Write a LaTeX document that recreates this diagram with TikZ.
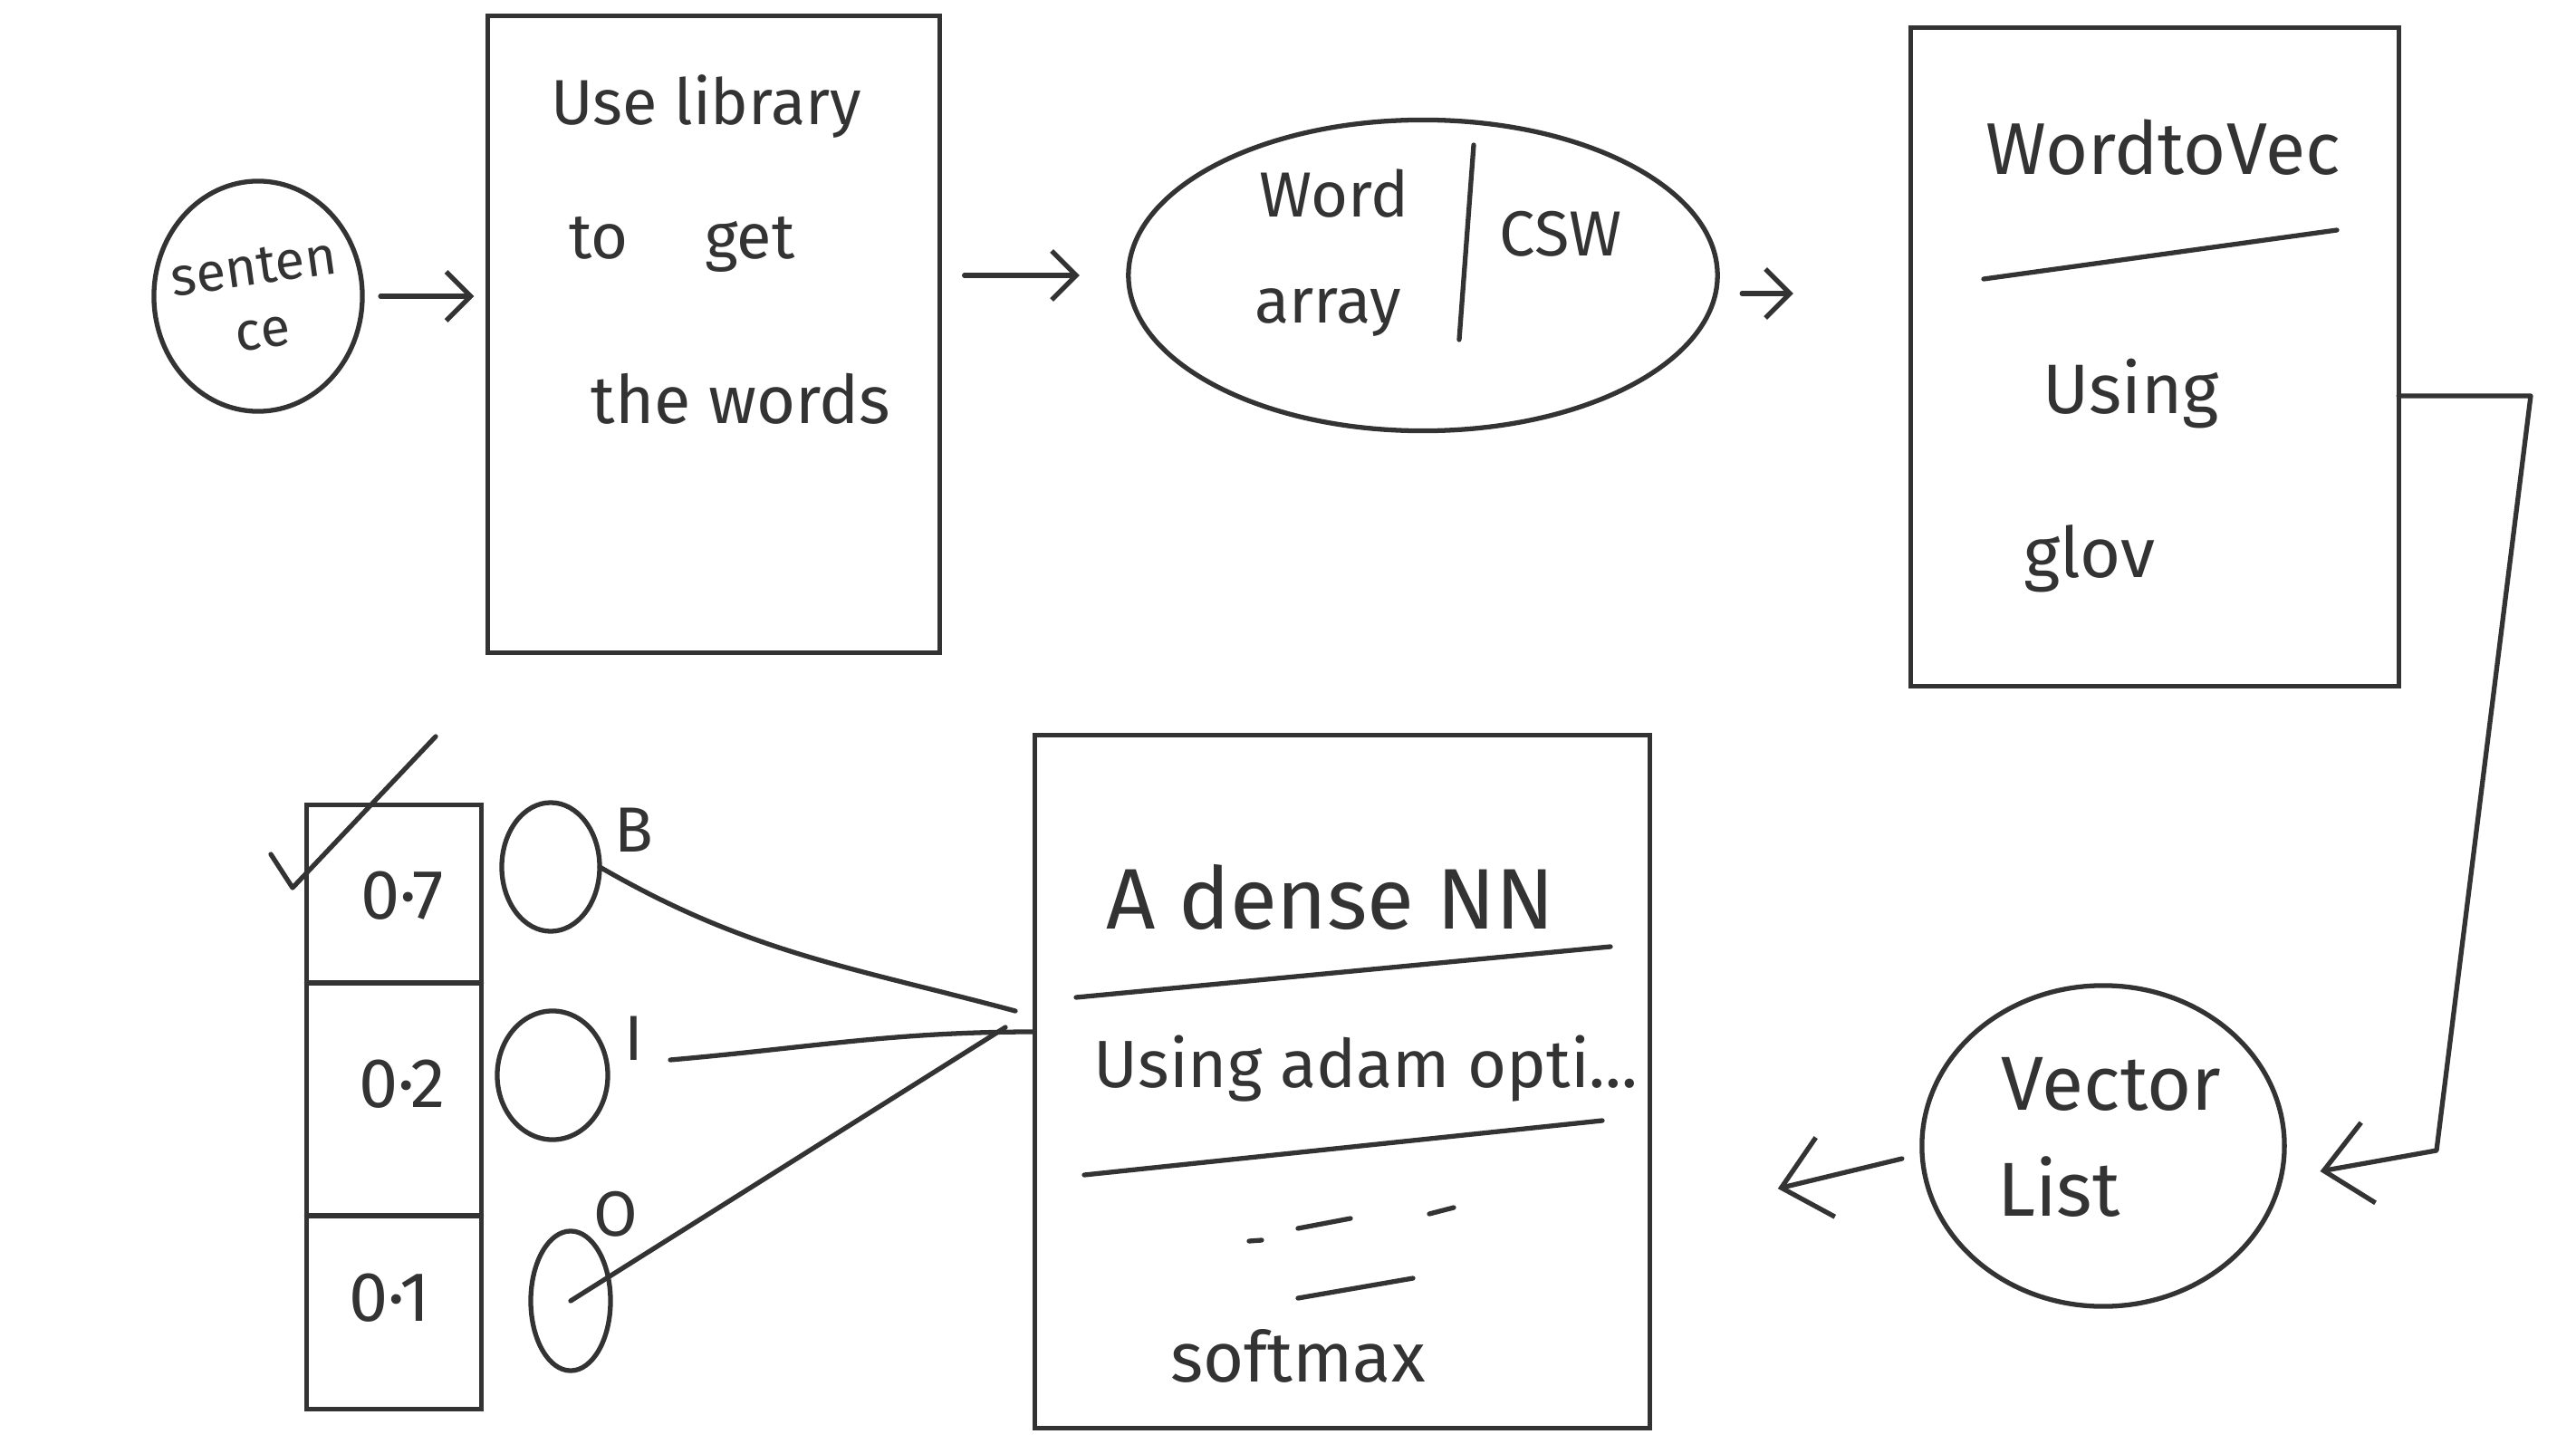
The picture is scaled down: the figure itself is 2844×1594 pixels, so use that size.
\documentclass[tikz,border=0pt]{standalone}
\usepackage{fontspec}
\setmainfont{Fira Sans}
\usetikzlibrary{arrows.meta,shapes.geometric}
\definecolor{ink}{HTML}{333333}
\begin{document}
\begin{tikzpicture}[x=0.01cm,y=-0.01cm,
  shp/.style={draw=ink,line width=1.5pt,inner sep=0pt,outer sep=0pt},
  ln/.style={draw=ink,line width=1.5pt,line cap=round},
  txt/.style={text=ink,inner sep=0pt,font=\fontsize{20}{24}\selectfont},
  arr/.style={ln,-{Straight Barb[length=0.27cm,width=0.54cm,line width=1.5pt]}},
  bigarr/.style={ln,-{Straight Barb[length=0.5cm,width=0.9cm,line width=1.5pt]}}]
\useasboundingbox (0,0) rectangle (2844,1594);
\fill[white] (0,0) rectangle (2844,1594);

% sentence
\node[shp,ellipse,minimum width=2.3cm,minimum height=2.54cm] (sent) at (285,327) {};
\node[txt,align=center,font=\fontsize{17}{20}\selectfont,rotate=8] (senttxt) at (285,330) {senten\\ce};

% box 1
\node[shp,rectangle,minimum width=4.99cm,minimum height=7.02cm] (box1) at (788,369) {};
\node[txt] (t1a) at (780,118) {Use library};
\node[txt] (t1b) at (753,270) {to\hspace{1.2em}get};
\node[txt,font=\fontsize{21}{25}\selectfont] (t1c) at (818,440) {the words};

% word array ellipse
\node[shp,ellipse,minimum width=6.5cm,minimum height=3.43cm] (wa) at (1571,304) {};
\draw[ln] (1627,160) -- (1611,375);
\node[txt] (wA) at (1473,214) {Word};
\node[txt] (wB) at (1466,345) {array};
\node[txt] (csw) at (1723,258) {CSW};

% box 3
\node[shp,rectangle,minimum width=5.38cm,minimum height=7.27cm] (box3) at (2379,394) {};
\draw[ln] (2190,308) -- (2580,254);
\node[txt,font=\fontsize{23}{27}\selectfont] (w2v) at (2388,163) {WordtoVec};
\node[txt,font=\fontsize{22}{26}\selectfont] (using) at (2353,435) {Using};
\node[txt,font=\fontsize{22}{26}\selectfont] (glov) at (2307,617) {glov};

% vector list
\node[shp,ellipse,minimum width=4.0cm,minimum height=3.54cm] (vl) at (2322,1265) {};
\node[txt,font=\fontsize{24}{28}\selectfont] (vec) at (2331,1197) {Vector};
\node[txt,font=\fontsize{24}{28}\selectfont] (lst) at (2273,1310) {List};

% dense NN box
\node[shp,rectangle,minimum width=6.79cm,minimum height=7.64cm] (dnn) at (1482,1194) {};
\node[txt,font=\fontsize{27}{31}\selectfont] (dA) at (1469,990) {A dense NN};
\draw[ln] (1188,1101) -- (1778,1045);
\node[txt,font=\fontsize{21}{25}\selectfont] (dB) at (1508,1180) {Using adam opti...};
\draw[ln] (1197,1297) -- (1769,1237);
\draw[ln] (1379,1370) -- (1393,1369);
\draw[ln] (1433,1356) -- (1491,1345);
\draw[ln] (1578,1340) -- (1605,1333);
\draw[ln] (1433,1433) -- (1560,1411);
\node[txt,font=\fontsize{22}{26}\selectfont] (soft) at (1433,1497) {softmax};

% probability column
\node[shp,rectangle,minimum width=1.93cm,minimum height=6.66cm] (col) at (435,1222) {};
\draw[ln] (col.west |- 0,1085) -- (col.east |- 0,1085);
\draw[ln] (col.west |- 0,1342) -- (col.east |- 0,1342);
\node[txt,font=\fontsize{22}{26}\selectfont] (p1) at (444,989) {0·7};
\node[txt,font=\fontsize{22}{26}\selectfont] (p2) at (444,1197) {0·2};
\node[txt,font=\fontsize{22}{26}\selectfont] (p3) at (430,1433) {0·1};
\draw[ln,line join=round] (299,943) -- (323,980) -- (481,813);

% output circles
\node[shp,ellipse,minimum width=1.08cm,minimum height=1.42cm] (oB) at (608,957) {};
\node[shp,ellipse,minimum width=1.22cm,minimum height=1.42cm] (oI) at (610,1187) {};
\node[shp,ellipse,minimum width=0.88cm,minimum height=1.54cm] (oO) at (630,1436) {};
\node[txt] (lB) at (700,916) {B};
\node[txt] (lI) at (700,1146) {I};
\node[txt] (lO) at (680,1340) {O};

\coordinate (cvB) at (1121,1116);
\coordinate (cvO) at (1110,1134);
\draw[ln] (oB.east) to[out=-30,in=165] (cvB);
\draw[ln] ([xshift=0.69cm,yshift=0.17cm]oI.east) to[out=5,in=180] (dnn.west |- 0,1139);
\draw[ln] (oO.center) -- (cvO);

% arrows
\draw[arr,shorten <=0.2cm,shorten >=0.15cm] (sent.east) -- (sent.east -| box1.west);
\draw[arr,shorten <=0.27cm,shorten >=0.54cm] (box1.east |- wa.west) -- (wa.west);
\draw[arr,shorten <=0.27cm,shorten >=1.3cm] ([yshift=-0.2cm]wa.east) -- ([yshift=-0.2cm]wa.east -| box3.west);
\coordinate (c1) at (2794,437);
\coordinate (c2) at (2690,1270);
\draw[bigarr,shorten >=0.4cm,line join=round] (box3.east |- c1) -- (c1) -- (c2) -- ([yshift=-0.35cm]vl.east);
\draw[bigarr] ([xshift=-0.22cm,yshift=-0.14cm]vl.west) -- ([xshift=1.41cm,yshift=-1.18cm]dnn.east);
\end{tikzpicture}
\end{document}
